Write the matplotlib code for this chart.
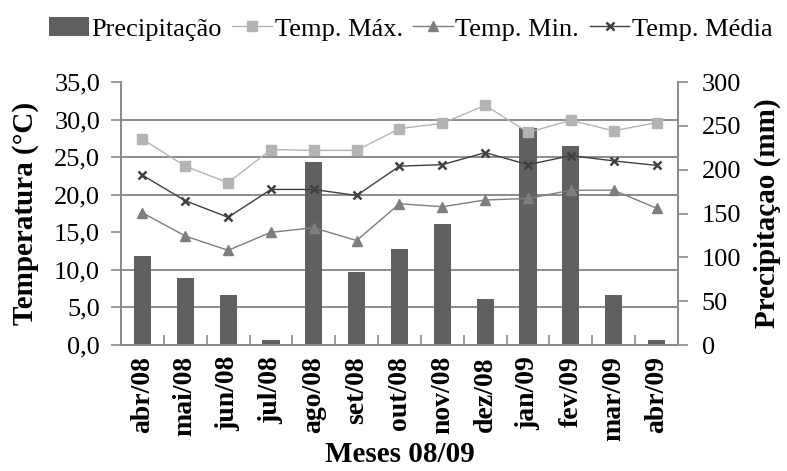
import numpy as np
import matplotlib
matplotlib.use("Agg")
import matplotlib.pyplot as plt
from matplotlib.ticker import FixedLocator, FuncFormatter

months = ["abr/08", "mai/08", "jun/08", "jul/08", "ago/08", "set/08", "out/08",
          "nov/08", "dez/08", "jan/09", "fev/09", "mar/09", "abr/09"]
precip = [102, 76, 57, 6, 209, 83, 110, 138, 53, 248, 227, 57, 6]
t_max = [27.4, 23.8, 21.6, 26.0, 25.9, 25.9, 28.8, 29.5, 31.9, 28.3, 29.9, 28.5, 29.6]
t_min = [17.6, 14.5, 12.6, 15.0, 15.6, 13.9, 18.8, 18.4, 19.3, 19.5, 20.6, 20.6, 18.2]
t_med = [22.6, 19.2, 17.0, 20.7, 20.7, 19.9, 23.8, 24.0, 25.6, 24.0, 25.2, 24.5, 23.9]
temp_ticks = [0, 5, 10, 15, 20, 25, 30, 35]
grid_at = [0, 5, 10, 20, 25, 30, 35]   # the 15,0 line does not show in the original
precip_ticks = [0, 50, 100, 150, 200, 250, 300]

plt.rcParams['font.family'] = ['Liberation Serif', 'DejaVu Serif']
spine_c = '#8c8c8c'

fig = plt.figure(figsize=(7.87, 4.71), dpi=100)
ax = fig.add_axes([0.1537, 0.2675, 0.7078, 0.5584])
ax2 = ax.twinx()
x = np.arange(len(months))

# bars on the right axis, underneath
bars = ax2.bar(x, precip, width=0.4, color='#606060', zorder=2, label='Precipitação')
ax2.set_ylim(0, 300)
ax2.set_yticks(precip_ticks)
ax2.tick_params(axis='y', labelsize=19, length=7, width=1.2, color=spine_c, pad=10)
# gridlines at temperature tick positions, behind bars
ax2.yaxis.set_minor_locator(FixedLocator([t * 300 / 35 for t in grid_at]))
ax2.tick_params(axis='y', which='minor', length=0)
ax2.grid(True, which='minor', axis='y', color=spine_c, lw=1.4, zorder=0)
ax2.set_axisbelow(True)
ax2.set_ylabel('Precipitaçao (mm)', fontsize=21, fontweight='bold', labelpad=9)

# temperature lines on the left axis, on top
ax.set_zorder(ax2.get_zorder() + 1)
ax.patch.set_visible(False)
l1, = ax.plot(x, t_max, color='#b4b4b4', marker='s', ms=7, lw=1, label='Temp. Máx.')
l2, = ax.plot(x, t_min, color='#7e7e7e', marker='^', ms=7, lw=1, label='Temp. Min.')
l3, = ax.plot(x, t_med, color='#404040', marker='x', ms=6, mew=1.8, lw=1, label='Temp. Média')
ax.set_ylim(0, 35)
ax.set_yticks(temp_ticks)
ax.yaxis.set_major_formatter(FuncFormatter(lambda v, p: f"{v:.1f}".replace('.', ',')))
ax.tick_params(axis='y', labelsize=19, length=7, width=1.2, color=spine_c, pad=8)
ax.set_ylabel('Temperatura (°C)', fontsize=21, fontweight='bold', labelpad=11)

ax.set_xlim(-0.5, len(months) - 0.5)
ax.set_xticks(x)
ax.set_xticklabels(months, rotation=90, fontsize=20, fontweight='bold')
ax.tick_params(axis='x', length=0, pad=8)
ax.xaxis.set_minor_locator(FixedLocator(np.arange(0.5, len(months) - 0.5, 1)))
ax.tick_params(axis='x', which='minor', direction='in', length=7, width=1.2, color=spine_c)
ax.set_xlabel('Meses 08/09', fontsize=21, fontweight='bold', labelpad=0)

for a in (ax, ax2):
    a.spines['top'].set_visible(False)
    for s in ('left', 'right', 'bottom'):
        a.spines[s].set_color(spine_c)
        a.spines[s].set_linewidth(1.4)

fig.legend([bars, l1, l2, l3], ['Precipitação', 'Temp. Máx.', 'Temp. Min.', 'Temp. Média'],
           loc='upper center', bbox_to_anchor=(0.522, 1.0), ncol=4, frameon=False,
           fontsize=19, handlelength=1.5, handletextpad=0.1, columnspacing=0.4,
           borderaxespad=0.25)

fig.savefig('out.png', dpi=100)
